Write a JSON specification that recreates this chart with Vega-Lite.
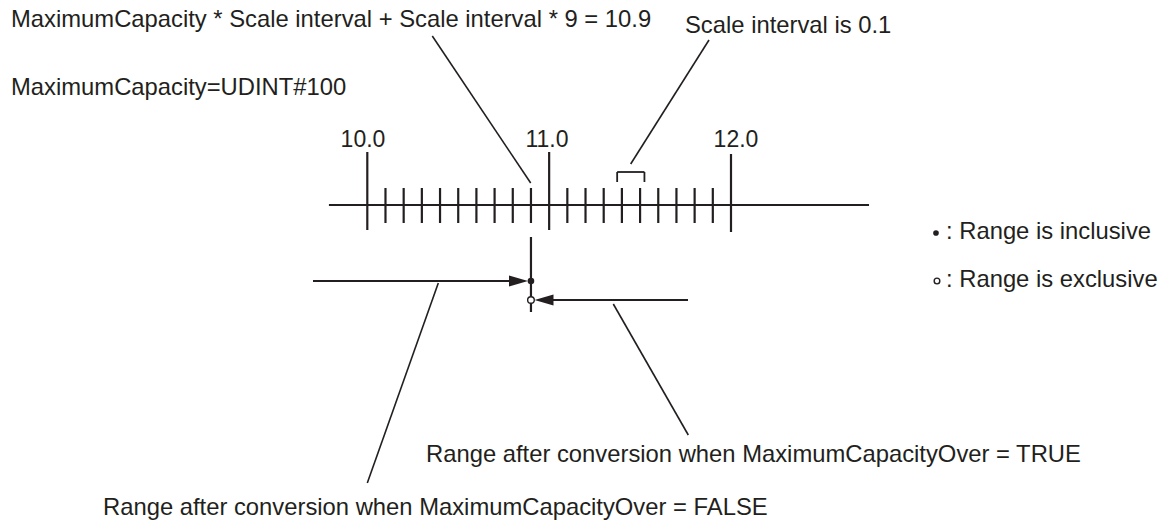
{
  "$schema": "https://vega.github.io/schema/vega-lite/v6.json",
  "width": 1173,
  "height": 530,
  "autosize": {"type": "none"},
  "padding": 0,
  "background": "white",
  "config": {"view": {"stroke": null}},
  "datasets": {
    "scaleLines": [
      {"x": 9.789, "y": 205, "x2": 12.759, "y2": 205},
      {"x": 10, "y": 152, "x2": 10, "y2": 230},
      {"x": 11, "y": 152, "x2": 11, "y2": 230},
      {"x": 12, "y": 154, "x2": 12, "y2": 232},
      {"x": 10.1, "y": 188, "x2": 10.1, "y2": 223},
      {"x": 10.2, "y": 188, "x2": 10.2, "y2": 223},
      {"x": 10.3, "y": 188, "x2": 10.3, "y2": 223},
      {"x": 10.4, "y": 188, "x2": 10.4, "y2": 223},
      {"x": 10.5, "y": 188, "x2": 10.5, "y2": 223},
      {"x": 10.6, "y": 188, "x2": 10.6, "y2": 223},
      {"x": 10.7, "y": 188, "x2": 10.7, "y2": 223},
      {"x": 10.8, "y": 188, "x2": 10.8, "y2": 223},
      {"x": 10.9, "y": 188, "x2": 10.9, "y2": 223},
      {"x": 11.1, "y": 188, "x2": 11.1, "y2": 223},
      {"x": 11.2, "y": 188, "x2": 11.2, "y2": 223},
      {"x": 11.3, "y": 188, "x2": 11.3, "y2": 223},
      {"x": 11.4, "y": 188, "x2": 11.4, "y2": 223},
      {"x": 11.5, "y": 188, "x2": 11.5, "y2": 223},
      {"x": 11.6, "y": 188, "x2": 11.6, "y2": 223},
      {"x": 11.7, "y": 188, "x2": 11.7, "y2": 223},
      {"x": 11.8, "y": 188, "x2": 11.8, "y2": 223},
      {"x": 11.9, "y": 188, "x2": 11.9, "y2": 223},
      {"x": 10.9, "y": 237, "x2": 10.9, "y2": 312},
      {"x": 9.7014, "y": 281, "x2": 10.86, "y2": 281},
      {"x": 10.94, "y": 300, "x2": 11.7636, "y2": 300}
    ],
    "bracket": [
      {"x": 11.374, "y": 172, "x2": 11.374, "y2": 182},
      {"x": 11.374, "y": 172, "x2": 11.524, "y2": 172},
      {"x": 11.524, "y": 172, "x2": 11.524, "y2": 182}
    ],
    "leaders": [
      {"x": 10.3574, "y": 36, "x2": 10.8985, "y2": 183},
      {"x": 11.4484, "y": 164, "x2": 11.879, "y2": 40},
      {"x": 10.3905, "y": 283, "x2": 10.0000, "y2": 483},
      {"x": 11.3528, "y": 304, "x2": 11.7652, "y2": 435}
    ],
    "arrowheads": [
      {"x": 10.8837, "y": 281, "dir": "right"},
      {"x": 10.9195, "y": 300, "dir": "left"}
    ],
    "dots": [
      {"x": 10.9, "y": 281, "kind": "inclusive", "where": "diagram"},
      {"x": 10.9, "y": 300, "kind": "exclusive", "where": "diagram"},
      {"x": 13.1272, "y": 233, "kind": "inclusive", "where": "legend"},
      {"x": 13.1328, "y": 281, "kind": "exclusive", "where": "legend"}
    ],
    "notes": [
      {"x": 8.0407, "y": 27, "label": "MaximumCapacity * Scale interval + Scale interval * 9 = 10.9"},
      {"x": 11.747, "y": 33, "label": "Scale interval is 0.1"},
      {"x": 8.0407, "y": 95, "label": "MaximumCapacity=UDINT#100"},
      {"x": 13.1823, "y": 239, "label": ": Range is inclusive"},
      {"x": 13.1823, "y": 287, "label": ": Range is exclusive"},
      {"x": 10.3228, "y": 462, "label": "Range after conversion when MaximumCapacityOver = TRUE"},
      {"x": 8.5466, "y": 515, "label": "Range after conversion when MaximumCapacityOver = FALSE"}
    ],
    "tickLabels": [
      {"x": 9.9763, "y": 147, "label": "10.0"},
      {"x": 10.9882, "y": 147, "label": "11.0"},
      {"x": 12.0275, "y": 147, "label": "12.0"}
    ]
  },
  "encoding": {
    "x": {"field": "x", "type": "quantitative", "scale": {"domain": [7.9802, 14.4306], "nice": false, "zero": false}, "axis": null},
    "y": {"field": "y", "type": "quantitative", "scale": {"domain": [0, 530], "reverse": true, "nice": false, "zero": false}, "axis": null}
  },
  "layer": [
    {
      "data": {"name": "scaleLines"},
      "mark": {"type": "rule", "strokeWidth": 2.2, "color": "#231f20"},
      "encoding": {"x2": {"field": "x2"}, "y2": {"field": "y2"}}
    },
    {
      "data": {"name": "bracket"},
      "mark": {"type": "rule", "strokeWidth": 1.8, "color": "#231f20"},
      "encoding": {"x2": {"field": "x2"}, "y2": {"field": "y2"}}
    },
    {
      "data": {"name": "leaders"},
      "mark": {"type": "rule", "strokeWidth": 1.6, "color": "#231f20"},
      "encoding": {"x2": {"field": "x2"}, "y2": {"field": "y2"}}
    },
    {
      "data": {"name": "arrowheads"},
      "mark": {"type": "point", "filled": true, "size": 361, "color": "#231f20", "opacity": 1, "strokeWidth": 0},
      "encoding": {
        "shape": {"field": "dir", "type": "nominal", "scale": {"domain": ["right", "left"], "range": ["M-2,-0.58L0,0L-2,0.58Z", "M2,-0.58L0,0L2,0.58Z"]}, "legend": null}
      }
    },
    {
      "data": {"name": "dots"},
      "transform": [{"filter": "datum.kind === 'inclusive'"}],
      "mark": {"type": "circle", "color": "#231f20", "opacity": 1},
      "encoding": {
        "size": {"field": "where", "type": "nominal", "scale": {"domain": ["diagram", "legend"], "range": [44, 32]}, "legend": null}
      }
    },
    {
      "data": {"name": "dots"},
      "transform": [{"filter": "datum.kind === 'exclusive'"}],
      "mark": {"type": "point", "shape": "circle", "filled": false, "fill": "white", "fillOpacity": 1, "stroke": "#231f20", "strokeWidth": 1.4, "opacity": 1},
      "encoding": {
        "size": {"field": "where", "type": "nominal", "scale": {"domain": ["diagram", "legend"], "range": [38, 36]}, "legend": null}
      }
    },
    {
      "data": {"name": "notes"},
      "mark": {"type": "text", "align": "left", "baseline": "alphabetic", "font": "Liberation Sans", "fontSize": 23.8, "color": "#231f20"},
      "encoding": {"text": {"field": "label"}}
    },
    {
      "data": {"name": "tickLabels"},
      "mark": {"type": "text", "align": "center", "baseline": "alphabetic", "font": "Liberation Sans", "fontSize": 23, "color": "#231f20"},
      "encoding": {"text": {"field": "label"}}
    }
  ]
}
